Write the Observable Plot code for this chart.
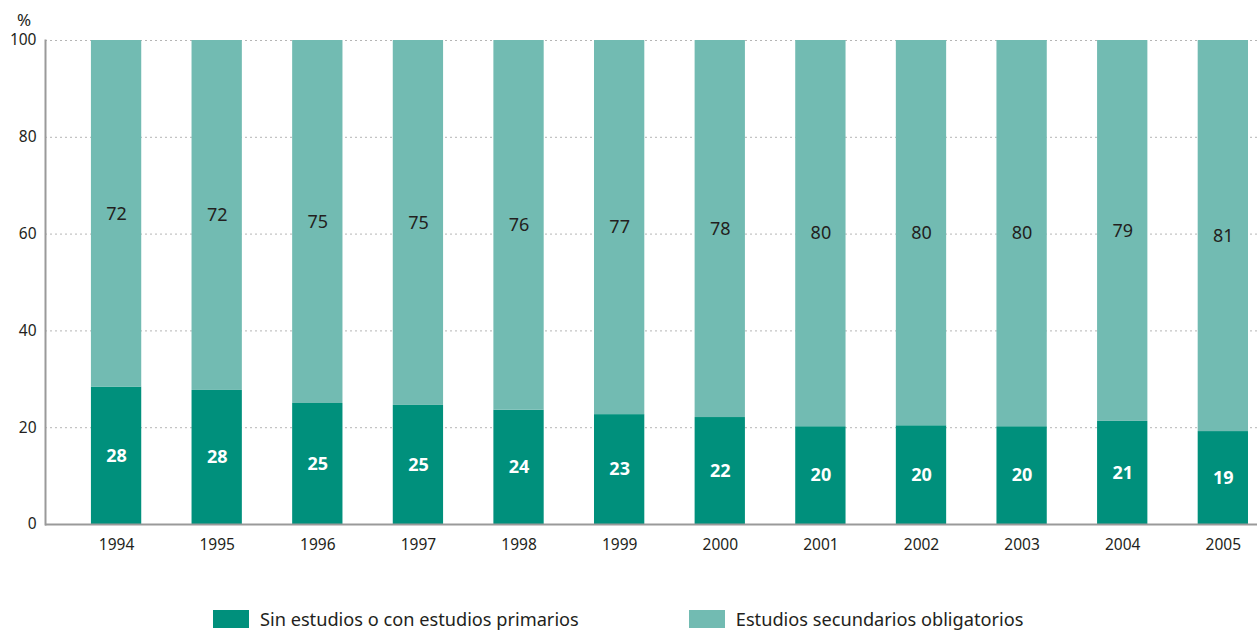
<!DOCTYPE html>
<html>
<head>
<meta charset="utf-8">
<script src="https://cdn.jsdelivr.net/npm/d3@7"></script>
<script src="https://cdn.jsdelivr.net/npm/@observablehq/plot@0.6"></script>
<style>
  body { margin: 0; background: #fff; font-family: "Noto Sans", Lato, sans-serif; }
  #wrap { position: relative; width: 1257px; height: 634px; overflow: hidden; }
  #unit { position: absolute; left: 17px; top: 8px; font-size: 17px; color: #231f20; }
  #legend { position: absolute; left: 213px; top: 608px; display: flex; font-size: 18.2px; line-height: 22px; color: #231f20; }
  .item { display: flex; align-items: center; }
  .sw { width: 36px; height: 18px; margin-right: 11px; }
</style>
</head>
<body>
<div id="wrap">
  <div id="chart"></div>
  <div id="unit">%</div>
  <div id="legend"></div>
</div>
<script>
const years = ["1994","1995","1996","1997","1998","1999","2000","2001","2002","2003","2004","2005"];
const categories = ["Sin estudios o con estudios primarios", "Estudios secundarios obligatorios"];
const primarios = [28.4, 27.7, 25.0, 24.6, 23.6, 22.7, 22.1, 20.2, 20.4, 20.2, 21.3, 19.2];
const secundarios = [71.6, 72.3, 75.0, 75.4, 76.4, 77.3, 77.9, 79.8, 79.6, 79.8, 78.7, 80.8];
const colors = ["#00907c", "#72bbb2"];
const yTicks = [0, 20, 40, 60, 80, 100];

const rows = [];
years.forEach((yr, i) => {
  rows.push({year: yr, cat: categories[0], value: primarios[i], mid: primarios[i] / 2, label: Math.round(primarios[i])});
  rows.push({year: yr, cat: categories[1], value: secundarios[i], mid: primarios[i] + secundarios[i] / 2, label: Math.round(secundarios[i])});
});

const font = "'Noto Sans', Lato, sans-serif";
const chart = Plot.plot({
  width: 1257,
  height: 560,
  marginLeft: 45,
  marginRight: 0,
  marginTop: 40,
  marginBottom: 36,
  style: {fontFamily: font, fontSize: "15.5px", color: "#231f20", background: "#fff"},
  x: {domain: years, round: false, paddingInner: 0.5, paddingOuter: 0.273, align: 0.836, tickSize: 0, tickPadding: 14, label: null},
  y: {domain: [0, 100], ticks: yTicks, tickSize: 0, tickPadding: 9, label: null},
  color: {domain: categories, range: colors},
  marks: [
    Plot.ruleY(yTicks.filter(d => d > 0), {stroke: "#b5b5b5", strokeDasharray: "2,3"}),
    Plot.barY(rows, {x: "year", y: "value", fill: "cat", order: categories}),
    Plot.text(rows.filter(d => d.cat === categories[0]), {x: "year", y: "mid", text: "label", fill: "#fff", fontWeight: "bold", fontSize: 18}),
    Plot.text(rows.filter(d => d.cat === categories[1]), {x: "year", y: "mid", text: "label", fill: "#231f20", fontSize: 18}),
    Plot.frame({anchor: "left", stroke: "#9a9a9a", strokeWidth: 2}),
    Plot.ruleY([0], {stroke: "#9a9a9a", strokeWidth: 2})
  ]
});
document.getElementById("chart").appendChild(chart);

const legend = document.getElementById("legend");
categories.forEach((c, i) => {
  const it = document.createElement("div");
  it.className = "item";
  it.style.marginRight = i === 0 ? "110px" : "0";
  it.innerHTML = `<div class="sw" style="background:${colors[i]}"></div><span>${c}</span>`;
  legend.appendChild(it);
});
</script>
</body>
</html>
